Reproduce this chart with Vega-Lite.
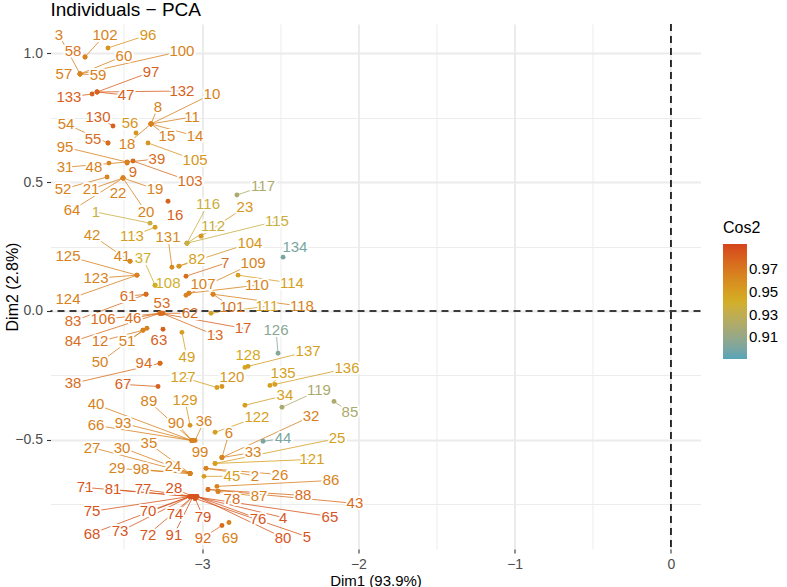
{
"$schema": "https://vega.github.io/schema/vega-lite/v6.json",
"width": 650, "height": 525,
"autosize": {"type": "none"},
"padding": {"left": 50.5, "top": 24, "right": 86.5, "bottom": 38},
"background": "white",
"title": {"text": "Individuals − PCA", "anchor": "start", "frame": "group", "fontSize": 19, "fontWeight": "normal", "font": "Liberation Sans", "color": "black", "offset": 3},
"datasets": {
"ind": [
{"id":"1","x":-3.333,"y":0.341,"lx":-3.679,"ly":0.384,"c":0.935},
{"id":"2","x":-2.975,"y":-0.611,"lx":-2.662,"ly":-0.639,"c":0.965},
{"id":"3","x":-3.781,"y":0.920,"lx":-3.916,"ly":1.072,"c":0.965},
{"id":"4","x":-3.045,"y":-0.720,"lx":-2.482,"ly":-0.802,"c":0.985},
{"id":"5","x":-3.045,"y":-0.728,"lx":-2.329,"ly":-0.876,"c":0.985},
{"id":"6","x":-2.873,"y":-0.569,"lx":-2.828,"ly":-0.475,"c":0.965},
{"id":"7","x":-3.103,"y":0.135,"lx":-2.853,"ly":0.185,"c":0.975},
{"id":"8","x":-3.327,"y":0.726,"lx":-3.282,"ly":0.792,"c":0.965},
{"id":"9","x":-3.480,"y":0.574,"lx":-3.442,"ly":0.539,"c":0.975},
{"id":"10","x":-3.327,"y":0.726,"lx":-2.937,"ly":0.842,"c":0.965},
{"id":"11","x":-3.327,"y":0.726,"lx":-3.065,"ly":0.753,"c":0.965},
{"id":"12","x":-3.378,"y":-0.075,"lx":-3.653,"ly":-0.118,"c":0.97},
{"id":"13","x":-3.257,"y":-0.009,"lx":-2.917,"ly":-0.094,"c":0.975},
{"id":"14","x":-3.327,"y":0.726,"lx":-3.045,"ly":0.679,"c":0.965},
{"id":"15","x":-3.327,"y":0.726,"lx":-3.225,"ly":0.679,"c":0.965},
{"id":"16","x":-3.218,"y":0.426,"lx":-3.173,"ly":0.372,"c":0.98},
{"id":"17","x":-3.269,"y":-0.009,"lx":-2.738,"ly":-0.067,"c":0.98},
{"id":"18","x":-3.327,"y":0.726,"lx":-3.480,"ly":0.648,"c":0.965},
{"id":"19","x":-3.506,"y":0.516,"lx":-3.301,"ly":0.473,"c":0.965},
{"id":"20","x":-3.506,"y":0.516,"lx":-3.359,"ly":0.384,"c":0.965},
{"id":"21","x":-3.506,"y":0.516,"lx":-3.711,"ly":0.473,"c":0.965},
{"id":"22","x":-3.506,"y":0.516,"lx":-3.538,"ly":0.457,"c":0.965},
{"id":"23","x":-3.007,"y":0.290,"lx":-2.726,"ly":0.403,"c":0.955},
{"id":"24","x":-3.077,"y":-0.631,"lx":-3.186,"ly":-0.600,"c":0.965},
{"id":"25","x":-2.917,"y":-0.592,"lx":-2.137,"ly":-0.495,"c":0.95},
{"id":"26","x":-2.975,"y":-0.611,"lx":-2.502,"ly":-0.635,"c":0.965},
{"id":"27","x":-3.077,"y":-0.631,"lx":-3.704,"ly":-0.530,"c":0.965},
{"id":"28","x":-3.058,"y":-0.720,"lx":-3.180,"ly":-0.689,"c":0.985},
{"id":"29","x":-3.077,"y":-0.631,"lx":-3.544,"ly":-0.611,"c":0.965},
{"id":"30","x":-3.077,"y":-0.631,"lx":-3.512,"ly":-0.530,"c":0.965},
{"id":"31","x":-3.480,"y":0.578,"lx":-3.877,"ly":0.558,"c":0.965},
{"id":"32","x":-2.873,"y":-0.569,"lx":-2.303,"ly":-0.409,"c":0.965},
{"id":"33","x":-2.873,"y":-0.569,"lx":-2.674,"ly":-0.549,"c":0.965},
{"id":"34","x":-2.726,"y":-0.366,"lx":-2.470,"ly":-0.328,"c":0.95},
{"id":"35","x":-3.077,"y":-0.631,"lx":-3.340,"ly":-0.514,"c":0.965},
{"id":"36","x":-3.045,"y":-0.503,"lx":-2.988,"ly":-0.429,"c":0.965},
{"id":"37","x":-3.301,"y":0.100,"lx":-3.378,"ly":0.205,"c":0.94},
{"id":"38","x":-3.269,"y":-0.203,"lx":-3.826,"ly":-0.281,"c":0.975},
{"id":"39","x":-3.480,"y":0.578,"lx":-3.289,"ly":0.590,"c":0.975},
{"id":"40","x":-3.065,"y":-0.503,"lx":-3.679,"ly":-0.363,"c":0.965},
{"id":"41","x":-3.461,"y":0.193,"lx":-3.512,"ly":0.213,"c":0.965},
{"id":"42","x":-3.461,"y":0.193,"lx":-3.704,"ly":0.294,"c":0.96},
{"id":"43","x":-2.962,"y":-0.693,"lx":-2.022,"ly":-0.747,"c":0.975},
{"id":"44","x":-2.610,"y":-0.506,"lx":-2.482,"ly":-0.495,"c":0.90},
{"id":"45","x":-2.988,"y":-0.642,"lx":-2.809,"ly":-0.642,"c":0.95},
{"id":"46","x":-3.269,"y":-0.009,"lx":-3.442,"ly":-0.028,"c":0.975},
{"id":"47","x":-3.672,"y":0.850,"lx":-3.487,"ly":0.838,"c":0.98},
{"id":"48","x":-3.596,"y":0.574,"lx":-3.692,"ly":0.558,"c":0.965},
{"id":"49","x":-3.129,"y":-0.083,"lx":-3.097,"ly":-0.180,"c":0.95},
{"id":"50","x":-3.378,"y":-0.075,"lx":-3.653,"ly":-0.199,"c":0.965},
{"id":"51","x":-3.353,"y":-0.067,"lx":-3.480,"ly":-0.118,"c":0.965},
{"id":"52","x":-3.608,"y":0.520,"lx":-3.890,"ly":0.473,"c":0.965},
{"id":"53","x":-3.269,"y":-0.009,"lx":-3.257,"ly":0.030,"c":0.975},
{"id":"54","x":-3.602,"y":0.652,"lx":-3.871,"ly":0.726,"c":0.965},
{"id":"55","x":-3.602,"y":0.652,"lx":-3.698,"ly":0.667,"c":0.975},
{"id":"56","x":-3.423,"y":0.691,"lx":-3.461,"ly":0.729,"c":0.955},
{"id":"57","x":-3.781,"y":0.920,"lx":-3.884,"ly":0.920,"c":0.965},
{"id":"58","x":-3.749,"y":0.986,"lx":-3.826,"ly":1.009,"c":0.97},
{"id":"59","x":-3.781,"y":0.920,"lx":-3.666,"ly":0.916,"c":0.965},
{"id":"60","x":-3.781,"y":0.920,"lx":-3.500,"ly":0.990,"c":0.965},
{"id":"61","x":-3.359,"y":0.065,"lx":-3.474,"ly":0.057,"c":0.975},
{"id":"62","x":-3.250,"y":-0.009,"lx":-3.077,"ly":-0.009,"c":0.975},
{"id":"63","x":-3.250,"y":-0.071,"lx":-3.276,"ly":-0.114,"c":0.98},
{"id":"64","x":-3.506,"y":0.516,"lx":-3.832,"ly":0.391,"c":0.965},
{"id":"65","x":-3.058,"y":-0.720,"lx":-2.182,"ly":-0.798,"c":0.985},
{"id":"66","x":-3.065,"y":-0.503,"lx":-3.679,"ly":-0.444,"c":0.965},
{"id":"67","x":-3.282,"y":-0.293,"lx":-3.506,"ly":-0.285,"c":0.98},
{"id":"68","x":-3.077,"y":-0.720,"lx":-3.704,"ly":-0.864,"c":0.985},
{"id":"69","x":-2.828,"y":-0.821,"lx":-2.821,"ly":-0.883,"c":0.965},
{"id":"70","x":-3.077,"y":-0.720,"lx":-3.346,"ly":-0.778,"c":0.985},
{"id":"71","x":-3.077,"y":-0.720,"lx":-3.749,"ly":-0.685,"c":0.985},
{"id":"72","x":-3.058,"y":-0.720,"lx":-3.346,"ly":-0.868,"c":0.985},
{"id":"73","x":-3.077,"y":-0.720,"lx":-3.525,"ly":-0.856,"c":0.985},
{"id":"74","x":-3.058,"y":-0.720,"lx":-3.173,"ly":-0.790,"c":0.985},
{"id":"75","x":-3.077,"y":-0.720,"lx":-3.704,"ly":-0.778,"c":0.985},
{"id":"76","x":-3.033,"y":-0.720,"lx":-2.642,"ly":-0.806,"c":0.985},
{"id":"77","x":-3.058,"y":-0.720,"lx":-3.378,"ly":-0.693,"c":0.985},
{"id":"78","x":-2.898,"y":-0.701,"lx":-2.809,"ly":-0.728,"c":0.975},
{"id":"79","x":-3.045,"y":-0.728,"lx":-2.994,"ly":-0.798,"c":0.985},
{"id":"80","x":-3.033,"y":-0.720,"lx":-2.482,"ly":-0.880,"c":0.985},
{"id":"81","x":-3.077,"y":-0.720,"lx":-3.570,"ly":-0.693,"c":0.985},
{"id":"82","x":-3.148,"y":0.174,"lx":-3.033,"ly":0.201,"c":0.95},
{"id":"83","x":-3.359,"y":0.065,"lx":-3.826,"ly":-0.040,"c":0.975},
{"id":"84","x":-3.269,"y":-0.009,"lx":-3.826,"ly":-0.118,"c":0.975},
{"id":"85","x":-2.156,"y":-0.351,"lx":-2.054,"ly":-0.394,"c":0.92},
{"id":"86","x":-2.905,"y":-0.681,"lx":-2.175,"ly":-0.658,"c":0.965},
{"id":"87","x":-2.898,"y":-0.701,"lx":-2.636,"ly":-0.720,"c":0.965},
{"id":"88","x":-2.962,"y":-0.693,"lx":-2.354,"ly":-0.716,"c":0.975},
{"id":"89","x":-3.065,"y":-0.503,"lx":-3.340,"ly":-0.351,"c":0.965},
{"id":"90","x":-3.065,"y":-0.503,"lx":-3.167,"ly":-0.433,"c":0.965},
{"id":"91","x":-3.058,"y":-0.720,"lx":-3.180,"ly":-0.868,"c":0.985},
{"id":"92","x":-2.873,"y":-0.833,"lx":-2.994,"ly":-0.880,"c":0.975},
{"id":"93","x":-3.065,"y":-0.503,"lx":-3.506,"ly":-0.436,"c":0.965},
{"id":"94","x":-3.269,"y":-0.203,"lx":-3.372,"ly":-0.203,"c":0.975},
{"id":"95","x":-3.480,"y":0.578,"lx":-3.877,"ly":0.636,"c":0.965},
{"id":"96","x":-3.602,"y":1.021,"lx":-3.346,"ly":1.072,"c":0.955},
{"id":"97","x":-3.672,"y":0.850,"lx":-3.327,"ly":0.928,"c":0.98},
{"id":"98","x":-3.077,"y":-0.631,"lx":-3.391,"ly":-0.615,"c":0.965},
{"id":"99","x":-3.065,"y":-0.503,"lx":-3.013,"ly":-0.549,"c":0.965},
{"id":"100","x":-3.781,"y":0.920,"lx":-3.129,"ly":1.009,"c":0.965},
{"id":"101","x":-2.930,"y":0.065,"lx":-2.809,"ly":0.014,"c":0.97},
{"id":"102","x":-3.749,"y":0.986,"lx":-3.621,"ly":1.072,"c":0.965},
{"id":"103","x":-3.442,"y":0.582,"lx":-3.077,"ly":0.504,"c":0.975},
{"id":"104","x":-3.148,"y":0.174,"lx":-2.694,"ly":0.263,"c":0.955},
{"id":"105","x":-3.346,"y":0.652,"lx":-3.045,"ly":0.586,"c":0.955},
{"id":"106","x":-3.269,"y":-0.009,"lx":-3.634,"ly":-0.032,"c":0.975},
{"id":"107","x":-3.084,"y":0.069,"lx":-2.994,"ly":0.104,"c":0.965},
{"id":"108","x":-3.301,"y":0.100,"lx":-3.218,"ly":0.108,"c":0.94},
{"id":"109","x":-3.103,"y":0.061,"lx":-2.674,"ly":0.185,"c":0.965},
{"id":"110","x":-3.084,"y":0.069,"lx":-2.649,"ly":0.100,"c":0.965},
{"id":"111","x":-2.943,"y":-0.009,"lx":-2.585,"ly":0.018,"c":0.95},
{"id":"112","x":-3.097,"y":0.263,"lx":-2.930,"ly":0.329,"c":0.935},
{"id":"113","x":-3.301,"y":0.325,"lx":-3.449,"ly":0.290,"c":0.95},
{"id":"114","x":-2.770,"y":0.139,"lx":-2.425,"ly":0.108,"c":0.95},
{"id":"115","x":-3.097,"y":0.263,"lx":-2.521,"ly":0.349,"c":0.935},
{"id":"116","x":-3.097,"y":0.263,"lx":-2.962,"ly":0.415,"c":0.935},
{"id":"117","x":-2.777,"y":0.450,"lx":-2.610,"ly":0.485,"c":0.92},
{"id":"118","x":-2.930,"y":0.065,"lx":-2.361,"ly":0.018,"c":0.965},
{"id":"119","x":-2.489,"y":-0.374,"lx":-2.252,"ly":-0.308,"c":0.92},
{"id":"120","x":-2.873,"y":-0.293,"lx":-2.809,"ly":-0.258,"c":0.955},
{"id":"121","x":-2.917,"y":-0.592,"lx":-2.297,"ly":-0.576,"c":0.95},
{"id":"122","x":-2.917,"y":-0.471,"lx":-2.649,"ly":-0.413,"c":0.95},
{"id":"123","x":-3.417,"y":0.139,"lx":-3.679,"ly":0.127,"c":0.965},
{"id":"124","x":-3.417,"y":0.139,"lx":-3.858,"ly":0.045,"c":0.965},
{"id":"125","x":-3.417,"y":0.139,"lx":-3.858,"ly":0.213,"c":0.965},
{"id":"126","x":-2.514,"y":-0.164,"lx":-2.527,"ly":-0.075,"c":0.905},
{"id":"127","x":-2.905,"y":-0.297,"lx":-3.122,"ly":-0.258,"c":0.95},
{"id":"128","x":-2.726,"y":-0.219,"lx":-2.706,"ly":-0.172,"c":0.945},
{"id":"129","x":-3.077,"y":-0.444,"lx":-3.109,"ly":-0.347,"c":0.955},
{"id":"130","x":-3.570,"y":0.718,"lx":-3.666,"ly":0.753,"c":0.98},
{"id":"131","x":-3.193,"y":0.170,"lx":-3.218,"ly":0.286,"c":0.96},
{"id":"132","x":-3.672,"y":0.850,"lx":-3.129,"ly":0.854,"c":0.98},
{"id":"133","x":-3.704,"y":0.842,"lx":-3.852,"ly":0.831,"c":0.98},
{"id":"134","x":-2.482,"y":0.209,"lx":-2.406,"ly":0.248,"c":0.90},
{"id":"135","x":-2.566,"y":-0.289,"lx":-2.482,"ly":-0.242,"c":0.95},
{"id":"136","x":-2.534,"y":-0.285,"lx":-2.073,"ly":-0.223,"c":0.95},
{"id":"137","x":-2.706,"y":-0.215,"lx":-2.322,"ly":-0.157,"c":0.95}
],
"zero": [{"v": 0}]
},
"data": {"name": "ind"},
"resolve": {"legend": {"color": "independent"}},
"layer": [
{
"mark": {"type": "point", "opacity": 0, "size": 1},
"encoding": {
"x": {"field": "x", "type": "quantitative", "scale": {"domain": [-3.97, 0.189], "nice": false, "zero": false},
 "axis": {"title": "Dim1 (93.9%)", "values": [-3.5, -3, -2.5, -2, -1.5, -1, -0.5, 0], "format": ".0f",
  "labelExpr": "datum.value % 1 === 0 ? datum.label : ''",
  "gridWidth": {"condition": {"test": "datum.value % 1 !== 0", "value": 0.95}, "value": 1.9},
  "tickOpacity": {"condition": {"test": "datum.value % 1 !== 0", "value": 0}, "value": 1},
  "labelPadding": 4, "titleY": 31, "titleBaseline": "middle", "titleFontSize": 15}},
"y": {"field": "y", "type": "quantitative", "scale": {"domain": [-0.924, 1.114], "nice": false, "zero": false},
 "axis": {"title": "Dim2 (2.8%)", "values": [-0.75, -0.5, -0.25, 0, 0.25, 0.5, 0.75, 1], "format": ".1f",
  "labelExpr": "datum.value % 0.5 === 0 ? datum.label : ''",
  "gridWidth": {"condition": {"test": "datum.value % 0.5 !== 0", "value": 0.95}, "value": 1.9},
  "tickOpacity": {"condition": {"test": "datum.value % 0.5 !== 0", "value": 0}, "value": 1},
  "labelPadding": 4, "titleX": -38, "titleBaseline": "middle"}}
}
},
{
"transform": [{"filter": "sqrt(pow((datum.lx-datum.x)*156,2)+pow((datum.ly-datum.y)*257,2)) > 17"}],
"mark": {"type": "rule", "strokeWidth": 0.8},
"encoding": {
"x": {"field": "x", "type": "quantitative"},
"y": {"field": "y", "type": "quantitative"},
"x2": {"field": "lx"},
"y2": {"field": "ly"},
"color": {"field": "c", "type": "quantitative", "scale": {"domain": [0.891, 0.992], "range": ["#55A4B8", "#D4AF24", "#D6421C"], "interpolate": "lab"}, "legend": null}
}
},
{
"mark": {"type": "text", "font": "Liberation Sans", "fontSize": 15, "baseline": "middle", "align": "center", "fill": "white", "stroke": "white", "strokeWidth": 4, "strokeJoin": "round"},
"encoding": {
"x": {"field": "lx", "type": "quantitative"},
"y": {"field": "ly", "type": "quantitative"},
"text": {"field": "id"}
}
},
{
"data": {"name": "zero"},
"mark": {"type": "rule", "color": "black", "strokeWidth": 1.6, "strokeDash": [7, 5]},
"encoding": {"y": {"field": "v", "type": "quantitative"}}
},
{
"data": {"name": "zero"},
"mark": {"type": "rule", "color": "black", "strokeWidth": 1.6, "strokeDash": [7, 5]},
"encoding": {"x": {"field": "v", "type": "quantitative"}}
},
{
"mark": {"type": "circle", "opacity": 1, "size": 24},
"encoding": {
"x": {"field": "x", "type": "quantitative"},
"y": {"field": "y", "type": "quantitative"},
"color": {"field": "c", "type": "quantitative", "scale": {"domain": [0.891, 0.992], "range": ["#55A4B8", "#D4AF24", "#D6421C"], "interpolate": "lab"},
 "legend": {"type": "gradient", "title": "Cos2", "orient": "none", "legendX": 672.5, "legendY": 196, "direction": "vertical", "gradientLength": 115, "gradientThickness": 24, "values": [0.91, 0.93, 0.95, 0.97], "format": ".2f", "labelOverlap": false, "gradientStrokeWidth": 0}}
}
},
{
"mark": {"type": "text", "font": "Liberation Sans", "fontSize": 15, "baseline": "middle", "align": "center"},
"encoding": {
"x": {"field": "lx", "type": "quantitative"},
"y": {"field": "ly", "type": "quantitative"},
"text": {"field": "id"},
"color": {"field": "c", "type": "quantitative", "scale": {"domain": [0.891, 0.992], "range": ["#55A4B8", "#D4AF24", "#D6421C"], "interpolate": "lab"}, "legend": null}
}
}
],
"config": {
"view": {"stroke": null},
"font": "Liberation Sans",
"axis": {"domain": false, "gridColor": "#EBEBEB", "tickColor": "#333333", "tickSize": 4, "tickWidth": 1.1, "labelFont": "Liberation Sans", "labelFontSize": 14, "labelColor": "#4D4D4D", "titleFont": "Liberation Sans", "titleFontSize": 16, "titleFontWeight": "normal", "titleColor": "black"},
"legend": {"titleFont": "Liberation Sans", "titleFontSize": 16, "titleFontWeight": "normal", "titleColor": "black", "labelFont": "Liberation Sans", "labelFontSize": 15, "labelColor": "black", "labelOffset": 7, "titlePadding": 8}
}
}
